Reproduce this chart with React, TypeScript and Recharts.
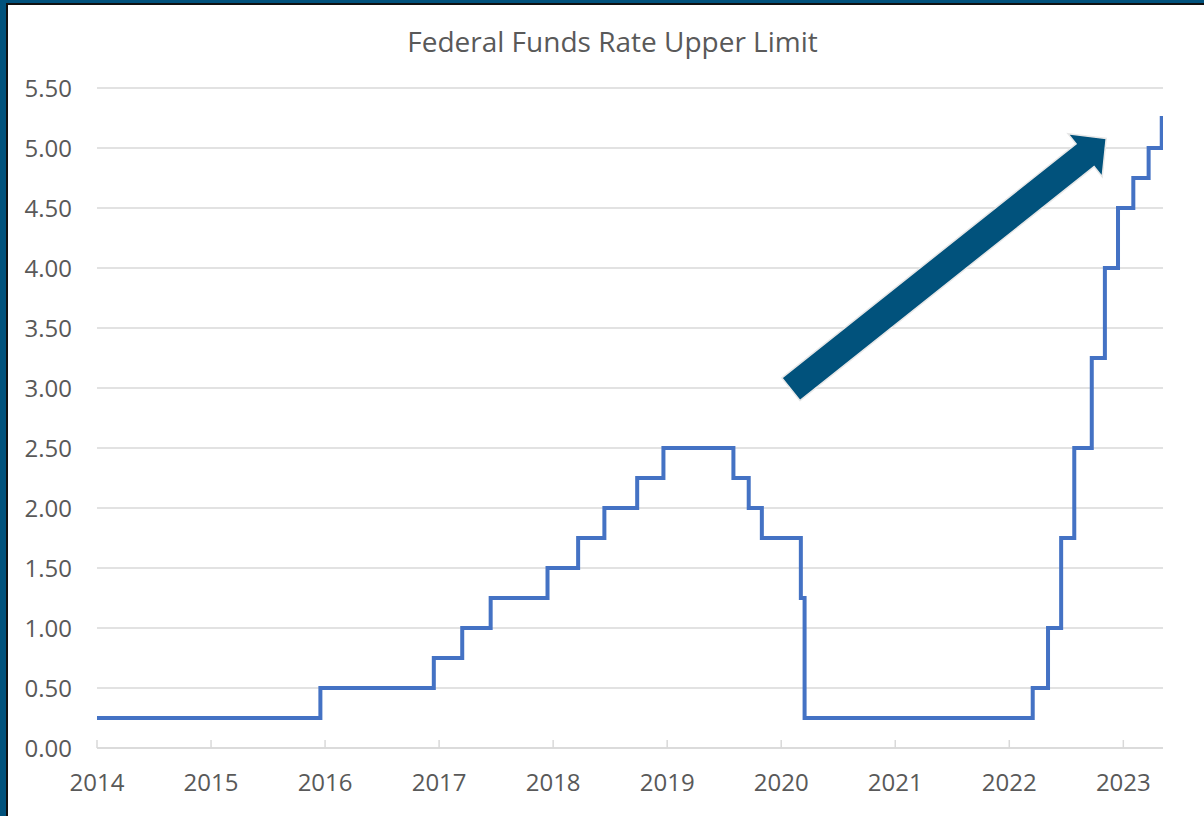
import React from 'react';
import { LineChart, Line, XAxis, YAxis, CartesianGrid, ReferenceLine } from 'recharts';

// Dates on which the upper limit changed (plus the start and end of the plotted range)
const rateChangeDates = [
  '2014-01-01', '2015-12-17', '2016-12-15', '2017-03-16', '2017-06-15', '2017-12-14',
  '2018-03-22', '2018-06-14', '2018-09-27', '2018-12-20', '2019-08-01', '2019-09-19',
  '2019-10-31', '2020-03-04', '2020-03-16', '2022-03-17', '2022-05-05', '2022-06-16',
  '2022-07-28', '2022-09-22', '2022-11-03', '2022-12-15', '2023-02-02', '2023-03-23',
  '2023-05-04', '2023-05-08',
];
// Upper limit (%) in force from each date
const upperLimitRates = [
  0.25, 0.5, 0.75, 1.0, 1.25, 1.5,
  1.75, 2.0, 2.25, 2.5, 2.25, 2.0,
  1.75, 1.25, 0.25, 0.5, 1.0, 1.75,
  2.5, 3.25, 4.0, 4.5, 4.75, 5.0,
  5.25, 5.25,
];
const xTickYears = [2014, 2015, 2016, 2017, 2018, 2019, 2020, 2021, 2022, 2023];
const yTickValues = [0, 0.5, 1, 1.5, 2, 2.5, 3, 3.5, 4, 4.5, 5, 5.5];
const chartTitle = 'Federal Funds Rate Upper Limit';
// Annotation arrow, in data coordinates: [year, rate]
const arrowTail = [2020.085, 2.99];
const arrowTip = [2022.85, 5.08];

const toDecimalYear = (iso: string) => {
  const [y, m, d] = iso.split('-').map(Number);
  const start = Date.UTC(y, 0, 1);
  const end = Date.UTC(y + 1, 0, 1);
  return y + (Date.UTC(y, m - 1, d) - start) / (end - start);
};

const data = rateChangeDates.map((d, i) => ({ t: toDecimalYear(d), rate: upperLimitRates[i] }));

const FONT = '"Open Sans", "Noto Sans", sans-serif';
const TEXT = '#595959';
const GRID = '#D9D9D9';
const NAVY = '#01527C';

const XTick = (props: any) => {
  const { x, y, payload } = props;
  return (
    <g>
      <line x1={x} y1={y - 8} x2={x} y2={y} stroke={GRID} strokeWidth={1.5} />
      <text x={x} y={y + 43} textAnchor="middle" fill={TEXT} fontSize={24} fontFamily={FONT}>
        {payload.value}
      </text>
    </g>
  );
};

const ArrowShape = (props: any) => {
  const { x1, y1, x2, y2 } = props;
  if (![x1, y1, x2, y2].every((v) => typeof v === 'number' && isFinite(v))) return null;
  const dx = x2 - x1;
  const dy = y2 - y1;
  const len = Math.sqrt(dx * dx + dy * dy);
  const ux = dx / len;
  const uy = dy / len;
  const nx = -uy;
  const ny = ux;
  const shaftHalf = 14.5;
  const headHalf = 27.5;
  const headLen = 27;
  const bx = x2 - ux * headLen;
  const by = y2 - uy * headLen;
  const pts = [
    [x1 + nx * shaftHalf, y1 + ny * shaftHalf],
    [bx + nx * shaftHalf, by + ny * shaftHalf],
    [bx + nx * headHalf, by + ny * headHalf],
    [x2, y2],
    [bx - nx * headHalf, by - ny * headHalf],
    [bx - nx * shaftHalf, by - ny * shaftHalf],
    [x1 - nx * shaftHalf, y1 - ny * shaftHalf],
  ];
  return (
    <polygon
      points={pts.map((p) => p.join(',')).join(' ')}
      fill={NAVY}
      stroke="#E8E8E8"
      strokeWidth={1.5}
      strokeLinejoin="miter"
    />
  );
};

export default function App() {
  const tStart = data[0].t;
  const tEnd = data[data.length - 1].t;
  return (
    <div
      style={{
        position: 'absolute',
        left: 0,
        top: 0,
        width: 1204,
        height: 816,
        background: NAVY,
        overflow: 'hidden',
      }}
    >
      <div
        style={{
          position: 'absolute',
          left: 6,
          top: 3,
          right: 0,
          bottom: 0,
          background: '#fff',
          borderLeft: '2px solid #111',
          borderTop: '2px solid #111',
        }}
      />
      <div style={{ position: 'absolute', left: 0, top: 0 }}>
        <LineChart
          width={1204}
          height={816}
          data={data}
          margin={{ top: 88, right: 41, bottom: 0, left: 0 }}
        >
          <CartesianGrid vertical={false} stroke={GRID} strokeWidth={1.5} />
          <XAxis
            dataKey="t"
            type="number"
            domain={[tStart, tEnd]}
            ticks={xTickYears}
            height={68}
            tickSize={0}
            tickMargin={0}
            tickLine={false}
            axisLine={{ stroke: GRID, strokeWidth: 1.5 }}
            tick={<XTick />}
            interval={0}
            allowDataOverflow
          />
          <YAxis
            type="number"
            domain={[0, 5.5]}
            ticks={yTickValues}
            width={97}
            tickSize={0}
            tickMargin={25}
            tickLine={false}
            axisLine={false}
            interval={0}
            tickFormatter={(v: number) => v.toFixed(2)}
            tick={{ fill: TEXT, fontSize: 24, fontFamily: FONT }}
          />
          <Line
            type="stepAfter"
            dataKey="rate"
            stroke="#4472C4"
            strokeWidth={4}
            dot={false}
            activeDot={false}
            isAnimationActive={false}
          />
          <ReferenceLine
            segment={[
              { x: arrowTail[0], y: arrowTail[1] },
              { x: arrowTip[0], y: arrowTip[1] },
            ]}
            ifOverflow="visible"
            shape={(p: any) => <ArrowShape {...p} />}
          />
        </LineChart>
      </div>
      <svg
        width={1204}
        height={80}
        style={{ position: 'absolute', left: 0, top: 0, pointerEvents: 'none' }}
      >
        <text x={612.5} y={52} textAnchor="middle" fill={TEXT} fontSize={28} fontFamily={FONT}>
          {chartTitle}
        </text>
      </svg>
    </div>
  );
}
